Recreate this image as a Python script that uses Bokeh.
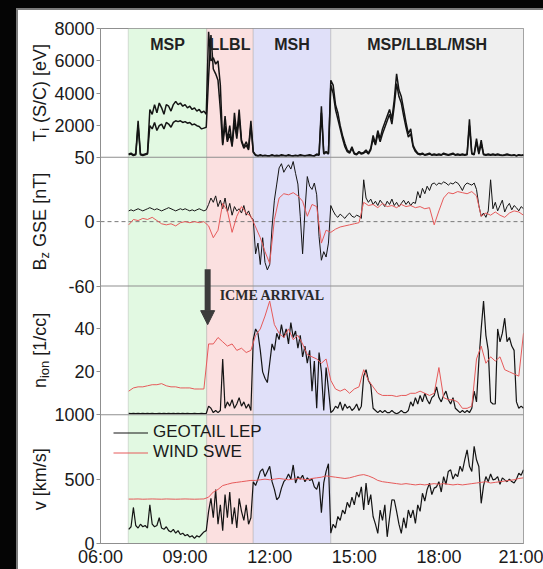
import math
import numpy as np
import pandas as pd
from bokeh.plotting import figure
from bokeh.layouts import column, row
from bokeh.core.properties import value
from bokeh.models import (Range1d, FixedTicker, BoxAnnotation, Span, Label, Arrow,
                          NormalHead, Legend, LegendItem, DatetimeTickFormatter)
from bokeh.embed import file_html
from bokeh.resources import INLINE

DAY = "2005-01-01"


def ms(hm):
    return (pd.Timestamp(f"{DAY} {hm}") - pd.Timestamp("1970-01-01")) / pd.Timedelta(milliseconds=1)


def times(start, step, n):
    return pd.date_range(f"{DAY} {start}", periods=n, freq=step)


# ---------------- axis / annotation data ----------------
x_start, x_end = "06:00", "21:00"
x_ticks = ["06:00", "09:00", "12:00", "15:00", "18:00", "21:00"]

regions = ["MSP", "LLBL", "MSH", "MSP/LLBL/MSH"]
region_start = ["06:59", "09:46", "11:25", "14:10"]
region_end = ["09:46", "11:25", "14:10", "21:00"]
region_colors = ["#e2f9e2", "#fbe0e0", "#e0e0f9", "#efefef"]

icme_time = "09:48"
icme_text = "ICME ARRIVAL"

# panel: name, low, high, slot (0 = bottom), tick values
panel_names = ["ti", "bz", "n", "v"]
panel_lo = [50, -60, 0, 0]
panel_hi = [8000, 60, 60, 1000]
panel_slot = [3, 2, 1, 0]
panel_ticks = [[50, 2000, 4000, 6000, 8000], [-60, 0], [20, 40], [0, 500, 1000]]

# ---------------- series (GEOTAIL 5-min from 07:00, WIND 10-min from 07:00) ----------------
ti_geo_a = [
    250, 300, 200, 250, 2300, 250, 200, 250, 300, 3000, 2700, 3300,
    2800, 3400, 3100, 2700, 3300, 3200, 2900, 3300, 3500, 3300, 3400, 3200,
    3300, 3100, 3200, 3000, 3100, 2900, 3000, 2800, 2900, 2700, 7800, 6000,
    6200, 5800, 6000, 4500, 900, 2600, 1100, 2000, 800, 2800, 1400, 3000,
    1100, 700, 1000, 600, 2300, 400, 200, 150, 200, 150, 180, 150,
    150, 200, 150, 180, 150, 200, 170, 150, 200, 160, 150, 180,
    150, 200, 170, 150, 180, 200, 160, 150, 250, 200, 3200, 300,
    400, 300, 4800, 4500, 3300, 2800, 2000, 1400, 900, 500, 350, 700,
    300, 250, 400, 300, 350, 500, 300, 600, 1400, 900, 1700, 1200,
    1800, 2200, 2600, 3000, 2400, 3600, 5200, 4200, 3800, 3000, 2200, 1500,
    1800, 800, 500, 300, 250, 300, 200, 250, 300, 200, 250, 200,
    250, 200, 300, 250, 200, 250, 300, 200, 250, 200, 250, 200,
    250, 2400, 300, 250, 1200, 300, 1100, 250, 200, 250, 200, 250,
    200, 250, 200, 180, 200, 250, 200, 180, 200, 150, 200, 180,
    200,
]
ti_geo_b = [
    200, 250, 150, 200, 2000, 200, 150, 200, 250, 2000, 1800, 2200,
    1700, 2000, 2100, 1800, 2200, 2100, 1900, 2200, 2300, 2250, 2300, 2200,
    2250, 2150, 2200, 2050, 2100, 2000, 1950, 1800, 1850, 1900, 5000, 7600,
    5500, 5200, 4800, 3000, 800, 2000, 1000, 1500, 700, 2200, 1200, 2500,
    1000, 600, 800, 500, 2000, 350, 150, 120, 150, 130, 150, 120,
    130, 150, 120, 140, 130, 150, 140, 130, 150, 140, 130, 150,
    130, 150, 140, 130, 150, 160, 140, 130, 200, 180, 2800, 250,
    350, 250, 4500, 4000, 3000, 2400, 1800, 1200, 700, 400, 300, 600,
    250, 200, 350, 250, 300, 400, 250, 500, 1200, 800, 1500, 1000,
    1500, 1900, 2300, 2700, 2100, 3200, 4600, 3800, 3400, 2600, 1900, 1300,
    1500, 700, 400, 250, 200, 250, 180, 200, 250, 180, 200, 180,
    200, 180, 250, 200, 180, 200, 250, 180, 200, 180, 200, 180,
    200, 2000, 250, 200, 1000, 250, 900, 200, 180, 200, 180, 200,
    180, 200, 180, 150, 180, 200, 180, 150, 180, 130, 180, 150,
    180,
]
bz_geo = [
    10, 11, 10, 11, 12, 11, 10, 11, 12, 13, 12, 11,
    12, 11, 10, 11, 12, 13, 12, 11, 10, 11, 12, 11,
    12, 11, 10, 11, 10, 11, 12, 11, 10, 11, 16, 22,
    18, 24, 14, 20, 12, 22, 9, 17, 6, 14, 10, 12,
    8, 15, 6, 10, 4, 2, -30, -20, -40, -15, -38, -45,
    -40, -5, 20, 35, 50, 54, 46, 50, 53, 49, 56, 45,
    35, 5, -30, 10, 42, 33, 30, 36, 25, -14, -36, -28,
    -33, -20, 15, 10, 6, 4, 7, 5, 3, 6, 8, 5,
    4, 6, 5, 3, 39, 22, 18, 21, 16, 19, 15, 20,
    17, 14, 19, 16, 21, 15, 18, 14, 17, 20, 16, 19,
    15, 18, 17, 28, 22, 31, 26, 33, 29, 35, 36, 34,
    36, 35, 37, 36, 34, 36, 35, 37, 36, 33, 29, 34,
    36, 35, 34, 36, 30, 15, 5, 8, 4, 10, 39, 12,
    18, 10, 15, 20, 9, 14, 17, 11, 15, 13, 10, 14,
    12,
]
bz_wind = [
    -3, 2, 1, 3, 2, 4,
    1, -2, -3, -2, -4, -1,
    0, -1, 0, -1, 0, -4,
    -15, -8, 17, 10, -10, 5,
    14, 8, 5, -5, -15, -28,
    -39, 2, 22, 26, 25, 27,
    24, 19, 5, 16, 14, -20,
    -8, -10, -7, -5, -4, -3,
    -2, -1, 18, 15, 16, 13,
    17, 14, 15, 13, 16, 14,
    15, 13, 14, 12, 13, -3,
    10, 22, 27, 26, 28, 27,
    26, 28, 24, 5, 8, 6,
    9, 6, 4, 8, 10, 9,
    6,
]
n_geo = [
    0.6, 0.5, 0.6, 0.5, 0.6, 0.5, 0.6, 0.5, 0.6, 0.5, 0.6, 0.5,
    0.5, 0.6, 0.5, 0.6, 0.5, 0.6, 0.5, 0.6, 0.5, 0.6, 0.5, 0.6,
    0.5, 0.6, 0.5, 0.5, 0.6, 0.5, 0.5, 0.6, 0.5, 0.6, 4, 3,
    1, 2, 1, 2, 26, 3, 6, 4, 7, 3, 5, 8,
    4, 6, 3, 5, 2, 35, 40, 38, 30, 20, 17, 15,
    24, 33, 30, 38, 35, 42, 36, 40, 33, 43, 36, 39,
    31, 37, 27, 32, 24, 30, 11, 25, 3, 29, 20, 2,
    22, 12, 1, 2, 4, 3, 6, 2, 5, 3, 4, 2,
    3, 5, 2, 4, 18, 21, 16, 14, 3, 2, 1, 2,
    1, 2, 1, 1, 2, 1, 0.5, 1, 2, 1, 1, 2,
    6, 4, 8, 5, 9, 6, 10, 7, 5, 8, 9, 13,
    8, 6, 9, 11, 7, 5, 8, 3, 2, 1, 2, 1,
    2, 1, 3, 11, 6, 25, 40, 53, 37, 30, 6, 5,
    5, 40, 34, 38, 45, 34, 36, 32, 30, 6, 3, 4,
    3,
]
n_wind = [
    11, 12.5, 13, 13, 13.5, 14,
    14, 14.5, 13.5, 13, 13, 12.5,
    12.5, 12.5, 12, 12, 12, 33,
    33, 36, 34, 32, 33, 30,
    31, 29, 30, 37, 40, 46,
    53, 42, 38, 36, 40, 35,
    37, 33, 28, 27, 26, 24,
    26, 16, 12, 11, 12, 10,
    12, 13, 21, 16, 13, 10,
    9, 9, 9, 8.5, 9, 9,
    10, 10, 11, 10, 9, 10,
    22, 8, 7, 7, 6, 3,
    3, 4, 26, 32, 24, 27,
    25, 27, 21, 20, 19, 18,
    38,
]
v_geo = [
    110, 130, 280, 140, 120, 150, 130, 140, 120, 300, 150, 130,
    140, 200, 120, 110, 130, 100, 90, 110, 80, 100, 70, 80,
    60, 70, 50, 60, 40, 60, 50, 70, 90, 100, 250, 350,
    200, 420, 150, 300, 100, 380, 200, 400, 150, 280, 120, 350,
    250, 180, 300, 150, 200, 480, 450, 500, 560, 580, 520, 560,
    600, 480, 420, 340, 360, 430, 480, 500, 540, 500, 610, 470,
    520, 500, 530, 480, 510, 490, 500, 440, 420, 480, 240, 470,
    560, 620, 80, 150, 120, 210, 180, 260, 230, 320, 280, 360,
    300, 400, 360, 440, 260, 470, 300, 380, 210, 150, 78, 260,
    180, 300, 52, 200, 340, 338, 250, 150, 78, 200, 120, 260,
    200, 260, 156, 300, 250, 390, 330, 420, 468, 380, 430, 440,
    480, 400, 520, 460, 560, 572, 500, 540, 520, 600, 560, 650,
    728, 600, 560, 754, 650, 598, 312, 450, 520, 480, 540, 494,
    500, 520, 460, 510, 494, 480, 500, 481, 470, 500, 546, 530,
    572,
]
v_wind = [
    345, 345, 346, 344, 345, 346,
    345, 344, 346, 345, 344, 345,
    346, 345, 344, 345, 346, 360,
    400, 420, 450, 460, 470, 475,
    480, 485, 490, 490, 495, 500,
    495, 500, 505, 500, 495, 500,
    505, 500, 495, 505, 510, 515,
    525, 520, 515, 510, 505, 510,
    520, 530, 535, 525, 510, 490,
    480, 475, 470, 465, 460, 465,
    460, 455, 460, 455, 460, 465,
    460, 465, 460, 455, 460, 455,
    460, 465, 470, 475, 480, 470,
    475, 480, 485, 490, 495, 505,
    510,
]

legend_labels = ["GEOTAIL LEP", "WIND SWE"]

# y-axis titles: (text, is_subscript) pieces
ylabel_parts = {
    "ti": [("T", False), ("i", True), (" (S/C) [eV]", False)],
    "bz": [("B", False), ("z", True), (" GSE [nT]", False)],
    "n": [("n", False), ("ion", True), (" [1/cc]", False)],
    "v": [("v [km/s]", False)],
}

# ---------------- styling ----------------
BLACK = "#141414"
RED = "#e65a5a"
GRID_GRAY = "#8f8f8f"
FONT = "Liberation Sans"
STRIP_W = 33
FIG_H = 559
TOP_B, BOT_B = 18, 26
FRAME_H = FIG_H - TOP_B - BOT_B

p = figure(width=525 - STRIP_W, height=FIG_H, x_axis_type="datetime",
           x_range=Range1d(ms(x_start), ms(x_end)), y_range=Range1d(0, 4),
           output_backend="svg", toolbar_location=None,
           min_border_left=48, min_border_right=20, min_border_top=TOP_B, min_border_bottom=BOT_B,
           background_fill_color="white", border_fill_color="white",
           outline_line_color=GRID_GRAY, margin=0)
p.grid.visible = False

lo = dict(zip(panel_names, panel_lo))
hi = dict(zip(panel_names, panel_hi))
slot = dict(zip(panel_names, panel_slot))
for nm in panel_names:
    span = hi[nm] - lo[nm]
    p.extra_y_ranges[nm] = Range1d(lo[nm] - slot[nm] * span, hi[nm] + (3 - slot[nm]) * span)


def pos(nm, v):
    return round(slot[nm] + (v - lo[nm]) / (hi[nm] - lo[nm]), 6)


# region bands
for s, e, c in zip(region_start, region_end, region_colors):
    p.add_layout(BoxAnnotation(left=ms(s), right=ms(e), fill_color=c, fill_alpha=1.0,
                               line_color=GRID_GRAY, line_width=1, level="underlay"))

# zero line in Bz panel
p.add_layout(Span(location=pos("bz", 0), dimension="width", line_color="#7a7a7a",
                  line_dash="4 3", line_width=1, level="underlay"))

# data
t5 = lambda arr: times("07:00", "5min", len(arr))
t10 = lambda arr: times("07:00", "10min", len(arr))

p.line(t5(ti_geo_a), ti_geo_a, y_range_name="ti", line_color=BLACK, line_width=1.5)
p.line(t5(ti_geo_b), ti_geo_b, y_range_name="ti", line_color=BLACK, line_width=1.5)
p.line(t5(bz_geo), bz_geo, y_range_name="bz", line_color=BLACK, line_width=1.0)
p.line(t10(bz_wind), bz_wind, y_range_name="bz", line_color=RED, line_width=1.0)
p.line(t5(n_geo), n_geo, y_range_name="n", line_color=BLACK, line_width=1.2)
p.line(t10(n_wind), n_wind, y_range_name="n", line_color=RED, line_width=1.0)
r_geo = p.line(t5(v_geo), v_geo, y_range_name="v", line_color=BLACK, line_width=1.2)
r_wind = p.line(t10(v_wind), v_wind, y_range_name="v", line_color=RED, line_width=1.0)

# panel separators
for k in (1, 2, 3):
    p.add_layout(Span(location=k, dimension="width", line_color=GRID_GRAY, line_width=1))

# y axis (one axis, ticks for every panel)
tick_pos, tick_lab = [], {}
for nm, ticks in zip(panel_names, panel_ticks):
    for t in ticks:
        ps = pos(nm, t)
        tick_pos.append(ps)
        tick_lab[ps] = str(t)
yax = p.yaxis[0]
yax.ticker = FixedTicker(ticks=tick_pos, minor_ticks=[])
yax.major_label_overrides = tick_lab
yax.major_tick_out = 4
yax.major_tick_in = 0
yax.major_label_standoff = 2
yax.axis_line_color = GRID_GRAY
yax.major_tick_line_color = GRID_GRAY
yax.major_label_text_font = FONT
yax.major_label_text_font_size = "18px"
yax.major_label_text_color = "#1a1a1a"

xax = p.xaxis[0]
xax.ticker = FixedTicker(ticks=[ms(t) for t in x_ticks], minor_ticks=[])
xax.formatter = DatetimeTickFormatter(hours="%H:%M", hourmin="%H:%M", minutes="%H:%M",
                                      days="%H:%M", minsec="%H:%M")
xax.major_tick_out = 0
xax.major_tick_in = 0
xax.major_tick_line_color = None
xax.axis_line_color = GRID_GRAY
xax.major_label_standoff = 3
xax.major_label_text_font = FONT
xax.major_label_text_font_size = "18px"
xax.major_label_text_color = "#1a1a1a"

# region titles
for name, s, e in zip(regions, region_start, region_end):
    p.add_layout(Label(x=(ms(s) + ms(e)) / 2, y=4, y_offset=-16, text=name,
                       text_align="center", text_baseline="middle", text_font=FONT,
                       text_font_style="bold", text_font_size="16px", text_color="#222222"))

# ICME arrival arrow + text
p.add_layout(Arrow(x_start=ms(icme_time), y_start=2.13, x_end=ms(icme_time), y_end=1.70,
                   line_color="#3c3c3c", line_width=6,
                   end=NormalHead(size=14, fill_color="#3c3c3c", line_color="#3c3c3c")))
p.add_layout(Label(x=ms(icme_time), y=2, x_offset=12, y_offset=-9, text=icme_text,
                   text_align="left", text_baseline="middle", text_font="Liberation Serif",
                   text_font_style="bold", text_font_size="14px", text_color="#2a2a2a"))

# legend
legend = Legend(items=[LegendItem(label=legend_labels[0], renderers=[r_geo]),
                       LegendItem(label=legend_labels[1], renderers=[r_wind])],
                location=(11, 79), padding=2, margin=0, spacing=0,
                glyph_width=35, glyph_height=19, label_height=19, label_standoff=5,
                label_text_font=FONT, label_text_font_size="17px", label_text_color="#1a1a1a",
                background_fill_alpha=0, border_line_alpha=0)
p.add_layout(legend)

# ---------------- left strip with rotated y titles ----------------
strip = figure(width=STRIP_W, height=FIG_H, x_range=Range1d(0, STRIP_W), y_range=p.y_range,
               output_backend="svg", toolbar_location=None,
               min_border_left=0, min_border_right=0, min_border_top=TOP_B, min_border_bottom=BOT_B,
               background_fill_color="white", border_fill_color="white",
               outline_line_color=None, margin=0)
strip.axis.visible = False
strip.grid.visible = False

CHAR_W = {"T": .611, "i": .222, " ": .278, "(": .333, "S": .667, "/": .278, "C": .722,
          ")": .333, "[": .278, "e": .556, "V": .667, "]": .278, "B": .667, "z": .5,
          "G": .778, "E": .667, "n": .556, "o": .556, "1": .556, "c": .5, "v": .5,
          "k": .5, "m": .833, "s": .5}
MAIN_FS, SUB_FS = 18, 13
LABEL_X = 21
px_per_unit = FRAME_H / 4.0
for nm, parts in ylabel_parts.items():
    widths = [sum(CHAR_W.get(ch, .55) for ch in txt) * (SUB_FS if sub else MAIN_FS) for txt, sub in parts]
    off = -sum(widths) / 2
    for (txt, sub), w in zip(parts, widths):
        fs = SUB_FS if sub else MAIN_FS
        shown = txt.lstrip(" ")
        lead = (len(txt) - len(shown)) * CHAR_W[" "] * fs
        strip.text(x=[LABEL_X + (5 if sub else 0)], y=[slot[nm] + 0.5 + (off + lead) / px_per_unit],
                   text=[shown], angle=math.pi / 2, text_align="left", text_baseline="middle",
                   text_font=value(FONT), text_font_size=value(f"{fs}px"),
                   text_color="#1a1a1a")
        off += w

inner = row(strip, p, margin=(2, 0, 0, 2), spacing=0, styles={"background-color": "white"})
mid = column(inner, width=527, height=561, margin=(8, 0, 0, 16),
             styles={"background-color": "#7b7b7b"})
root = column(mid, width=543, height=569, styles={"background-color": "#050505"})

open("out.html", "w").write(file_html(root, INLINE))
